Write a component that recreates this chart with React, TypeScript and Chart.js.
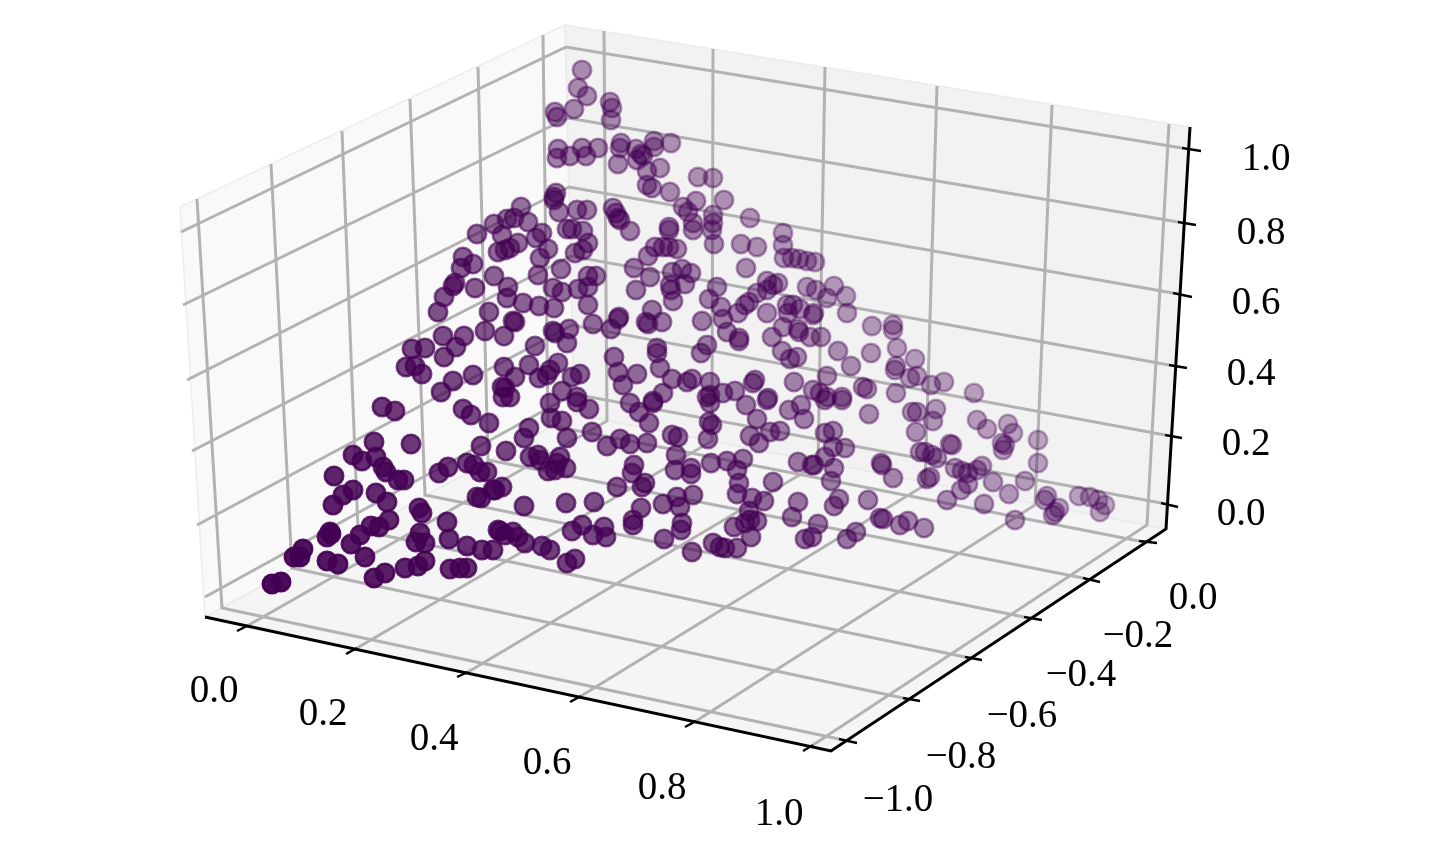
import React, { useEffect, useRef } from "react";
import { Chart, registerables } from "chart.js";

Chart.register(...registerables);

type Pair = number[];

// Tick labels
const xTickLabels = ["0.0", "0.2", "0.4", "0.6", "0.8", "1.0"];
const yTickLabels = ["\u22121.0", "\u22120.8", "\u22120.6", "\u22120.4", "\u22120.2", "0.0"];
const zTickLabels = ["0.0", "0.2", "0.4", "0.6", "0.8", "1.0"];

// Scatter points in projected view units, grouped by region
const frontLeft: Pair[] = [[382,407],[395,411],[374,442],[411,444],[463,409],[471,415],[489,423],[481,446],[353,455],[362,461],[376,457],[383,467],[386,472],[398,480],[404,480],[334,476],[353,490],[343,495],[333,505],[376,493],[387,502],[389,520],[379,527],[371,526],[360,535],[351,544],[365,557],[330,532],[327,537],[331,534],[303,549],[294,557],[300,557],[327,561],[338,564],[272,584],[281,582],[374,578],[385,573],[405,568],[418,566],[425,561],[419,508],[422,513],[420,533],[416,542],[425,543],[447,522],[449,539],[467,546],[482,550],[493,550],[500,531],[450,569],[460,568],[467,568],[439,473],[448,467],[467,463],[474,465],[480,472],[487,472],[477,497],[481,498],[495,490]];
const frontMiddle: Pair[] = [[506,451],[529,428],[524,438],[550,403],[551,418],[562,421],[567,438],[592,432],[589,409],[577,402],[607,446],[620,439],[630,444],[647,443],[649,423],[639,412],[630,403],[653,403],[672,435],[678,437],[709,422],[712,425],[708,439],[710,403],[676,455],[675,470],[691,468],[691,474],[711,463],[530,457],[538,455],[540,460],[548,471],[560,457],[557,463],[555,470],[566,468],[634,465],[632,473],[645,483],[642,487],[617,487],[566,503],[594,502],[524,506],[502,487],[493,490],[498,530],[505,535],[513,532],[518,537],[525,543],[542,546],[550,550],[572,531],[582,525],[593,535],[604,527],[606,537],[567,563],[575,559],[633,520],[633,525],[641,508],[663,504],[677,497],[680,507],[693,495],[682,523],[681,530],[664,539],[692,552],[713,543],[720,547],[725,548]];
const frontRight: Pair[] = [[746,405],[757,419],[750,436],[759,443],[770,432],[780,431],[789,410],[801,405],[804,419],[767,400],[825,433],[833,431],[825,400],[842,400],[869,414],[912,412],[917,412],[936,409],[933,421],[916,432],[950,444],[952,445],[833,447],[845,448],[825,457],[798,462],[812,465],[814,465],[834,468],[831,481],[727,461],[743,459],[737,470],[739,483],[737,494],[773,482],[752,498],[764,501],[749,511],[798,502],[792,517],[734,527],[745,523],[757,521],[750,520],[751,537],[737,548],[818,524],[812,537],[805,539],[834,506],[839,499],[868,500],[881,463],[882,465],[893,478],[847,539],[856,532],[880,518],[883,519],[900,525],[908,521],[924,528],[920,452],[925,452],[932,455],[937,458],[927,479],[930,477],[955,468],[962,471],[968,473],[961,490],[947,500],[968,484]];
const farRight: Pair[] = [[872,326],[893,325],[893,330],[897,348],[871,353],[915,359],[895,370],[896,366],[910,378],[917,376],[931,385],[944,382],[863,387],[867,389],[896,393],[974,393],[977,420],[987,429],[1008,424],[1013,433],[1002,443],[1005,445],[1003,450],[1038,440],[1038,463],[977,470],[982,466],[993,482],[1025,481],[1009,494],[984,504],[1047,496],[1045,500],[1059,508],[1055,512],[1053,515],[1015,520],[1079,496],[1090,497],[1098,500],[1105,505],[1100,512]];
const centre: Pair[] = [[669,230],[693,230],[712,230],[714,244],[741,244],[757,247],[783,233],[783,245],[784,258],[792,258],[799,259],[807,261],[815,262],[746,268],[655,247],[663,247],[669,247],[677,249],[648,256],[634,268],[650,277],[636,290],[672,272],[682,269],[691,273],[685,284],[670,285],[671,290],[673,301],[717,287],[709,299],[721,307],[723,319],[727,332],[702,321],[662,322],[652,310],[646,322],[648,324],[767,281],[778,283],[773,285],[767,290],[757,293],[749,302],[745,305],[738,313],[767,313],[807,287],[816,290],[827,298],[834,286],[846,296],[847,313],[838,351],[851,366],[827,376],[787,305],[793,305],[800,309],[788,313],[813,315],[814,313],[783,327],[798,329],[799,332],[810,337],[821,337],[772,337],[739,338],[739,341],[782,351],[790,359],[797,357],[707,345],[701,353],[657,348],[657,353],[660,368],[637,374],[672,379],[687,382],[692,379],[710,382],[710,395],[707,397],[723,393],[735,391],[755,380],[753,383],[768,398],[794,382],[813,390],[820,393],[827,397],[842,397],[663,393],[653,401]];
const upperLeft: Pair[] = [[521,207],[554,200],[559,212],[577,210],[587,210],[613,208],[618,218],[630,231],[477,234],[494,224],[507,219],[514,218],[528,222],[502,235],[567,229],[572,229],[583,231],[542,233],[536,238],[518,243],[548,249],[540,258],[538,275],[498,252],[505,250],[510,248],[588,243],[583,250],[575,253],[463,257],[473,264],[461,268],[455,283],[453,286],[444,297],[438,312],[475,288],[494,276],[508,287],[507,298],[523,303],[539,306],[554,308],[553,288],[562,292],[578,289],[588,276],[596,276],[588,287],[588,305],[561,269],[593,324],[611,329],[619,317],[618,319],[489,312],[485,331],[504,336],[513,321],[515,322],[553,331],[555,333],[569,329],[567,343],[535,346],[443,336],[464,336],[456,347],[444,357],[412,349],[425,348],[406,367],[415,366],[422,374],[473,375],[453,381],[441,392],[504,367],[515,377],[502,387],[505,388],[510,397],[503,397],[529,365],[539,378],[547,375],[558,363],[550,370],[580,374],[572,377],[562,391],[577,397],[614,357],[618,372],[623,385]];
const apex: Pair[] = [[582,70],[578,88],[587,96],[574,109],[555,112],[557,117],[610,102],[612,108],[611,120],[558,149],[557,158],[570,156],[582,148],[586,156],[598,148],[621,143],[620,148],[618,164],[636,149],[654,141],[654,147],[671,143],[643,156],[641,154],[647,171],[660,168],[637,160],[647,185],[652,188],[670,192],[698,177],[713,178],[696,201],[683,207],[688,212],[724,200],[713,215],[713,223],[750,218],[693,223],[669,227],[556,193],[554,197],[616,213],[620,220]];

// Frame of the 3D box, in the same view units
const leftWall: Pair[] = [[205,617],[180,207],[565,25],[574,414],[205,617]];
const backWall: Pair[] = [[574,414],[565,25],[1190,127],[1166,529],[574,414]];
const floorPane: Pair[] = [[205,617],[574,414],[1166,529],[831,751],[205,617]];
const axisLine: Pair[] = [[205,617],[831,751],[1166,529],[1190,127]];

const zGridLeft: Pair[] = [[205,597],[197,525],[192,451],[187,380],[183,305],[181,232]];
const zGridCorner: Pair[] = [[574,394],[572,325],[571,256],[569,187],[568,118],[566,47]];
const zGridRight: Pair[] = [[1161,503],[1165,435],[1169,365],[1173,293],[1178,222],[1182,148]];
const zTickEnd: Pair[] = [[1178,507],[1182,438],[1187,368],[1192,297],[1196,225],[1201,151]];
const zLabelAt: Pair[] = [[1241,515],[1246,445],[1251,375],[1256,304],[1261,234],[1266,160]];

const xGridTop: Pair[] = [[604,31],[713,49],[825,67],[937,86],[1052,105],[1169,124]];
const xGridElbow: Pair[] = [[607,421],[712,441],[818,464],[925,485],[1035,505],[1147,525]];
const xTickInner: Pair[] = [[247,626],[357,648],[468,672],[581,696],[696,721],[813,745]];
const xTickOuter: Pair[] = [[237,631],[346,654],[457,677],[570,702],[685,727],[803,751]];
const xLabelAt: Pair[] = [[214,692],[323,715],[434,740],[547,764],[662,789],[779,815]];

const yGridTop: Pair[] = [[197,199],[271,164],[342,131],[410,99],[478,67],[543,35]];
const yGridElbow: Pair[] = [[222,608],[292,568],[358,530],[425,495],[488,460],[548,425]];
const yTickInner: Pair[] = [[839,739],[903,698],[965,657],[1024,617],[1083,578],[1139,541]];
const yTickOuter: Pair[] = [[857,743],[920,701],[982,660],[1042,620],[1100,582],[1157,543]];
const yLabelAt: Pair[] = [[898,801],[961,758],[1022,717],[1081,676],[1138,637],[1193,599]];

const toXY = (p: Pair[]) => p.map(([x, y]) => ({ x, y }));

const scatterPoints = [...frontLeft, ...frontMiddle, ...frontRight, ...farRight, ...centre, ...upperLeft, ...apex];
const shade = ([x, y]: Pair) => Math.max(0.3, Math.min(1, 0.8 - 0.000725 * x + 0.000633 * y));
const INK = (a: number) => `rgba(68,1,84,${a.toFixed(3)})`;

const pane = (data: Pair[], fillColor: string) => ({
  data: toXY(data),
  showLine: true,
  fill: "shape",
  backgroundColor: fillColor,
  borderColor: "rgba(232,232,232,0.8)",
  borderWidth: 1.5,
  pointRadius: 0,
  order: 4,
});
const line = (data: Pair[], color: string, width: number, order: number) => ({
  data: toXY(data),
  showLine: true,
  fill: false,
  borderColor: color,
  borderWidth: width,
  pointRadius: 0,
  tension: 0,
  order,
});

const textLabels = {
  id: "tickText",
  afterDatasetsDraw(chart: any) {
    const { ctx, scales } = chart;
    ctx.save();
    ctx.font = '39px "Liberation Serif"';
    ctx.fillStyle = "#000";
    ctx.textAlign = "center";
    ctx.textBaseline = "middle";
    const put = (labels: string[], at: Pair[]) =>
      labels.forEach((t, i) =>
        ctx.fillText(t, scales.x.getPixelForValue(at[i][0]), scales.y.getPixelForValue(at[i][1]))
      );
    put(xTickLabels, xLabelAt);
    put(yTickLabels, yLabelAt);
    put(zTickLabels, zLabelAt);
    ctx.restore();
  },
};

export default function App() {
  const ref = useRef<HTMLCanvasElement>(null);
  useEffect(() => {
    const gridColor = "#b2b2b2";
    const grid: any[] = [];
    zGridLeft.forEach((_, i) => grid.push(line([zGridLeft[i], zGridCorner[i], zGridRight[i]], gridColor, 3, 3)));
    xGridTop.forEach((_, i) => grid.push(line([xGridTop[i], xGridElbow[i], xTickInner[i]], gridColor, 3, 3)));
    yGridTop.forEach((_, i) => grid.push(line([yGridTop[i], yGridElbow[i], yTickInner[i]], gridColor, 3, 3)));
    const ticks: any[] = [];
    xTickInner.forEach((_, i) => ticks.push(line([xTickInner[i], xTickOuter[i]], "#000", 2.4, 2)));
    yTickInner.forEach((_, i) => ticks.push(line([yTickInner[i], yTickOuter[i]], "#000", 2.4, 2)));
    zGridRight.forEach((_, i) => ticks.push(line([zGridRight[i], zTickEnd[i]], "#000", 2.4, 2)));

    const chart = new Chart(ref.current as HTMLCanvasElement, {
      type: "scatter",
      data: {
        datasets: [
          {
            data: toXY(scatterPoints),
            pointRadius: 9.2,
            pointBorderWidth: 2.6,
            pointBackgroundColor: scatterPoints.map((p) => INK(shade(p))),
            pointBorderColor: scatterPoints.map((p) => INK(shade(p))),
            order: 0,
          },
          line(axisLine, "#000", 3, 1),
          ...ticks,
          ...grid,
          pane(leftWall, "#f9f9f9"),
          pane(backWall, "#f2f2f2"),
          pane(floorPane, "#f5f5f5"),
        ] as any,
      },
      options: {
        animation: false,
        responsive: false,
        layout: { padding: 0, autoPadding: false },
        plugins: { legend: { display: false }, tooltip: { enabled: false } },
        scales: {
          x: { type: "linear", display: false, min: 0, max: 1448 },
          y: { type: "linear", display: false, min: 0, max: 851, reverse: true },
        },
      },
      plugins: [textLabels],
    } as any);
    return () => chart.destroy();
  }, []);
  return (
    <div style={{ position: "absolute", left: 0, top: 0, width: 1448, height: 851, background: "#fff" }}>
      <canvas ref={ref} width={1448} height={851} style={{ display: "block" }} />
    </div>
  );
}
